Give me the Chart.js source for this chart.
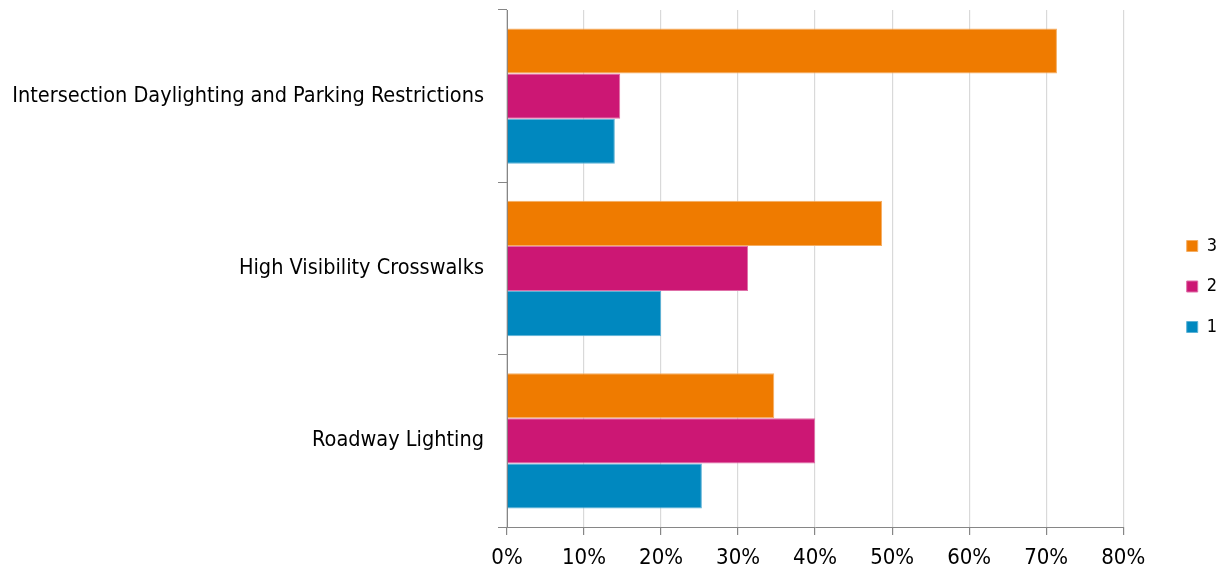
<!DOCTYPE html>
<html>
<head>
<meta charset="utf-8">
<script src="https://cdn.jsdelivr.net/npm/chart.js@4.4.1/dist/chart.umd.min.js"></script>
<style>
  html, body { margin: 0; padding: 0; background: #fff; }
  #wrap { width: 1221px; height: 573px; }
</style>
</head>
<body>
<div id="wrap"><canvas id="mycanvas" width="1221" height="573"></canvas></div>
<script>
var categories = ['Intersection Daylighting and Parking Restrictions', 'High Visibility Crosswalks', 'Roadway Lighting'];
var seriesNames = ['3', '2', '1'];
var series3 = [71.4, 48.7, 34.7];
var series2 = [14.7, 31.3, 40.0];
var series1 = [14.0, 20.0, 25.3];
var xTicks = [0, 10, 20, 30, 40, 50, 60, 70, 80];

var FONT = '"Liberation Sans Narrow", "DejaVu Sans Condensed", "Arial Narrow", sans-serif';

// push the legend block out toward the right edge, away from the plot
var legendShift = {
	id: 'legendShift',
	afterLayout: function(chart) {
		var lg = chart.legend;
		if (lg) {
			lg.left += 41; lg.right += 41;
			lg.top -= 5; lg.bottom -= 5;
		}
	}
};

var chartdata = {
	labels: categories,
	datasets: [
		{ label: seriesNames[0], data: series3, backgroundColor: '#EF7B00', borderColor: '#F5AE63', borderWidth: 1 },
		{ label: seriesNames[1], data: series2, backgroundColor: '#CC1774', borderColor: '#DF6FA8', borderWidth: 1 },
		{ label: seriesNames[2], data: series1, backgroundColor: '#0088BF', borderColor: '#5DB2D6', borderWidth: 1 }
	]
};

var ctx = document.getElementById('mycanvas');

var barGraph = new Chart(ctx, {
	type: 'bar',
	data: chartdata,
	plugins: [legendShift],
	options: {
		responsive: false,
		animation: false,
		indexAxis: 'y',
		categoryPercentage: 0.785,
		barPercentage: 1.0,
		layout: { padding: { top: 10, right: 35, left: 0, bottom: 0 } },
		plugins: {
			tooltip: { enabled: false },
			legend: {
				position: 'right',
				labels: {
					boxWidth: 11,
					boxHeight: 11,
					padding: 22.5,
					color: '#000',
					font: { family: FONT, size: 18 }
				}
			}
		},
		scales: {
			x: {
				min: 0,
				max: 80,
				afterBuildTicks: function(scale) {
					scale.ticks = xTicks.map(function(v) { return { value: v }; });
				},
				afterFit: function(scale) { scale.height = 46; },
				border: { color: '#868686', width: 1 },
				grid: {
					color: '#d9d9d9',
					tickColor: '#868686',
					tickLength: 8,
					lineWidth: 1.2
				},
				ticks: {
					padding: 10,
					color: '#000',
					maxRotation: 0,
					font: { family: FONT, size: 22 },
					callback: function(v) { return v + '%'; }
				}
			},
			y: {
				afterFit: function(scale) {
					scale.width = 507;
					scale.paddingTop = 0;
					scale.paddingBottom = 0;
				},
				border: { color: '#868686', width: 1 },
				grid: {
					offset: true,
					drawOnChartArea: false,
					tickColor: '#868686',
					tickLength: 9
				},
				ticks: {
					padding: 14,
					color: '#000',
					font: { family: FONT, size: 21.5 }
				}
			}
		}
	}
});
</script>
</body>
</html>
